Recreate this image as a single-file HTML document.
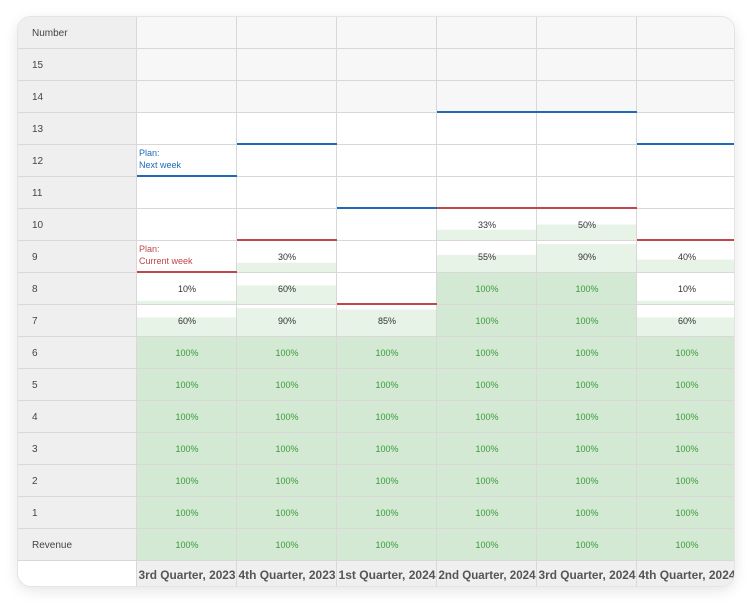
<!DOCTYPE html>
<html><head><meta charset="utf-8"><style>
body{margin:0;background:#fff;width:752px;height:604px;overflow:hidden;font-family:"Liberation Sans",sans-serif}
#card{position:absolute;left:17px;top:16px;width:718px;height:571px;border-radius:14px;overflow:hidden;box-shadow:0 4px 14px rgba(0,0,0,0.10);border:1px solid #e4e4e4;box-sizing:border-box;background:#fff}
#svg{position:absolute;left:-1px;top:-1px}
</style></head><body>
<div id="card"><svg id="svg" width="718" height="571"></svg></div>
<script>
const rowLabels=["Revenue","1","2","3","4","5","6","7","8","9","10","11","12","13","14","15"];
const quarters=["3rd Quarter, 2023","4th Quarter, 2023","1st Quarter, 2024","2nd Quarter, 2024","3rd Quarter, 2024","4th Quarter, 2024"];
const fullRows=[7,7,7,9,9,7];
const partials=[[60,10],[90,60,30],[85],[55,33],[90,50],[60,10,40]];
const planCurrent=[9,10,8,11,11,10];
const planNext=[12,13,11,14,14,13];
const NS="http://www.w3.org/2000/svg",svg=document.getElementById('svg');
const X0=-17,Y0=-16,LW=137,CW=100,RH=32,BASE=560;
function el(t,a,p){const e=document.createElementNS(NS,t);for(const k in a)e.setAttribute(k,a[k]);(p||svg).appendChild(e);return e}
const cx=i=>X0+LW+i*CW, ly=v=>Y0+BASE-v*RH;
el('rect',{x:0,y:0,width:718,height:ly(14),fill:'#f7f7f7'});
el('rect',{x:0,y:0,width:LW+X0,height:ly(0),fill:'#efefef'});
el('rect',{x:cx(0),y:ly(0),width:600,height:30,fill:'#efefef'});
quarters.forEach((q,i)=>{
 for(let r=0;r<fullRows[i];r++){const c=el('rect',{x:cx(i),y:ly(r+1),width:CW,height:RH,fill:'#d3e9d3'});
 
 const t=el('text',{x:cx(i)+50,y:ly(r+1)+20,'text-anchor':'middle','font-size':9,fill:'#3d9a3d'});t.textContent='100%';}
 partials[i].forEach((p,k)=>{const r=fullRows[i]+k,h=(RH-1)*p/100;
  const c=el('rect',{x:cx(i),y:ly(r+1)+RH-h,width:CW,height:h,fill:'#e7f3e7'});
  
  const t=el('text',{x:cx(i)+50,y:ly(r+1)+20,'text-anchor':'middle','font-size':9,fill:'#333'});t.textContent=p+'%';});
});
for(let r=0;r<=16;r++)el('line',{x1:0,x2:718,y1:ly(r)+0.5,y2:ly(r)+0.5,stroke:'#d8d8d8'});
for(let i=0;i<=6;i++)el('line',{x1:cx(i)-0.5,x2:cx(i)-0.5,y1:0,y2:571,stroke:'#d8d8d8'});
rowLabels.forEach((l,r)=>{const t=el('text',{x:15,y:ly(r+1)+20,'font-size':10,fill:'#444'});t.textContent=l;
 });
{const t=el('text',{x:15,y:ly(17)+20,'font-size':10,fill:'#444'});t.textContent='Number';}
quarters.forEach((q,i)=>{const t=el('text',{x:cx(i)+50,y:ly(0)+19,'text-anchor':'middle','font-size':12,'font-weight':'bold',fill:'#555',textLength:97,lengthAdjust:'spacingAndGlyphs'});t.textContent=q;
 
 const a=el('line',{x1:cx(i),x2:cx(i)+CW,y1:ly(planCurrent[i]),y2:ly(planCurrent[i]),stroke:'#c0464b','stroke-width':2});
 
 const b=el('line',{x1:cx(i),x2:cx(i)+CW,y1:ly(planNext[i]),y2:ly(planNext[i]),stroke:'#1e6ab8','stroke-width':2});
 });
[['Plan:',planNext[0]+1,'#1e6ab8',12],['Next week',planNext[0]+1,'#1e6ab8',24],['Plan:',planCurrent[0]+1,'#c0464b',12],['Current week',planCurrent[0]+1,'#c0464b',24]].forEach(d=>{
 const t=el('text',{x:cx(0)+2,y:ly(d[1])+d[3],'font-size':9,fill:d[2]});t.textContent=d[0];
 });
</script></body></html>
